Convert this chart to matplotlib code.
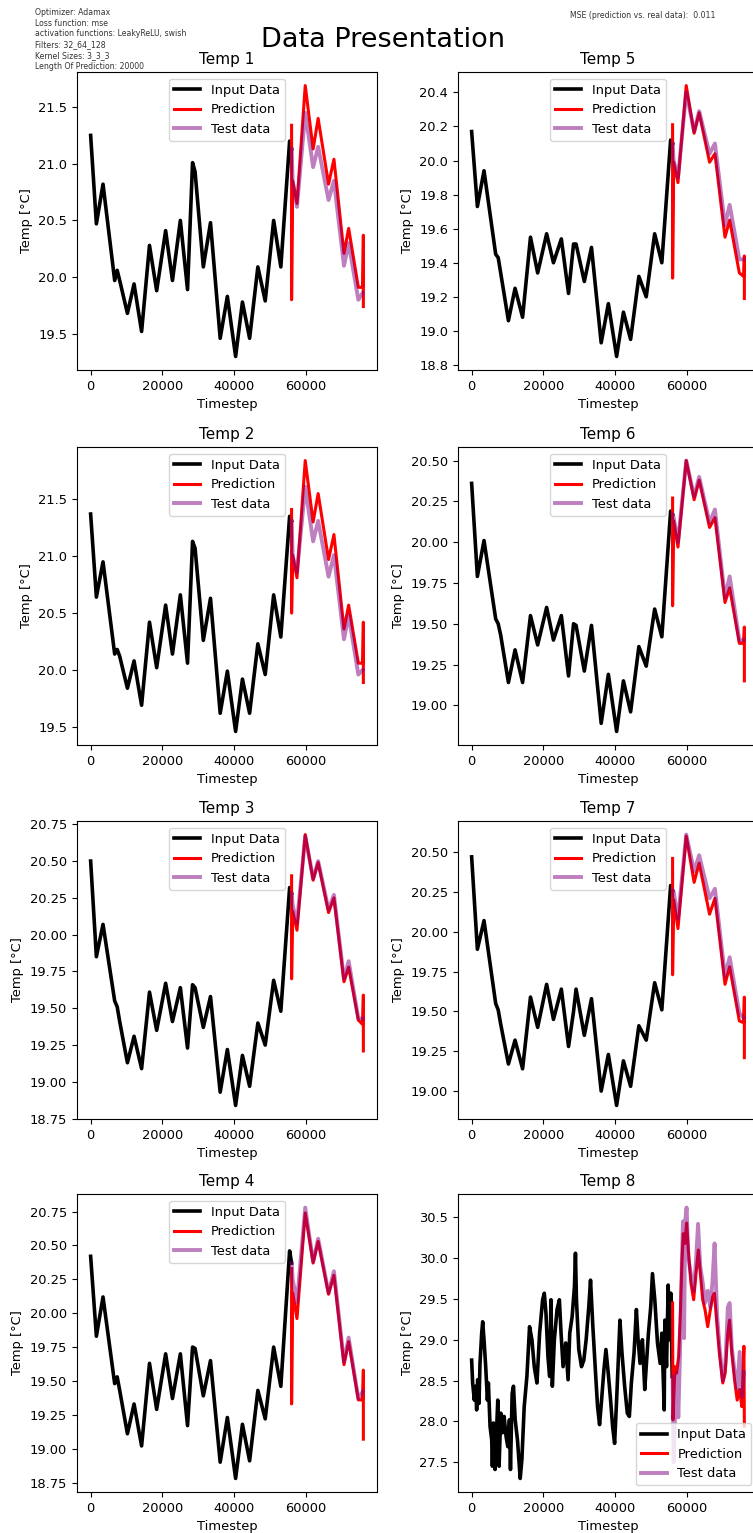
"""
Data presentation grid: input / prediction / test temperature series for 8 sensors.
"""

import matplotlib.pyplot as plt

OUT_PATH = "out.png"

# shared timestep grids (temps 1-7)
INPUT_X = [0, 1600, 3450, 6700, 7400, 8100, 10250, 12100, 14200, 16400, 18400, 20900,
           22800, 25000, 27000, 28400, 29100, 31400, 33400, 36100, 38100, 40400, 42300,
           44300, 46600, 48650, 51000, 53000, 55450, 56000]
PRED_X = [56000, 56000, 56300, 57500, 59800, 62000, 63400, 66300, 67800, 70600, 71900,
          74600, 75800, 76000, 76000]
TEST_X = [56000, 56300, 57500, 59800, 62000, 63400, 66300, 67800, 70600, 71900, 74600, 75800]

TEMP1_INPUT = [21.25, 20.47, 20.82, 19.97, 20.06, 19.97, 19.68, 19.94, 19.52, 20.28, 19.88, 20.41,
               19.97, 20.50, 19.89, 21.01, 20.93, 20.09, 20.48, 19.46, 19.83, 19.30, 19.78,
               19.46, 20.09, 19.79, 20.50, 20.09, 21.20, 21.13]
TEMP1_PRED = [21.34, 19.80, 20.85, 20.65, 21.69, 21.13, 21.40, 20.82, 21.04, 20.21, 20.43,
              19.91, 19.91, 20.37, 19.74]
TEMP1_TEST = [21.13, 20.85, 20.62, 21.45, 20.97, 21.15, 20.68, 20.85, 20.10, 20.30, 19.80, 19.86]

TEMP2_INPUT = [21.37, 20.64, 20.95, 20.14, 20.18, 20.12, 19.84, 20.08, 19.69, 20.42, 20.02, 20.57,
               20.14, 20.66, 20.06, 21.13, 21.07, 20.26, 20.63, 19.62, 19.99, 19.46, 19.92,
               19.62, 20.23, 19.96, 20.66, 20.29, 21.35, 21.31]
TEMP2_PRED = [21.41, 20.50, 21.01, 20.81, 21.84, 21.30, 21.55, 20.97, 21.19, 20.36, 20.57,
              20.06, 20.06, 20.42, 19.89]
TEMP2_TEST = [21.31, 21.00, 20.86, 21.61, 21.13, 21.31, 20.82, 21.01, 20.27, 20.48, 19.96, 20.00]

TEMP3_INPUT = [20.50, 19.85, 20.07, 19.55, 19.51, 19.41, 19.13, 19.31, 19.09, 19.61, 19.35, 19.67,
               19.41, 19.64, 19.23, 19.66, 19.64, 19.37, 19.58, 18.93, 19.22, 18.84, 19.18,
               18.97, 19.40, 19.25, 19.69, 19.48, 20.32, 20.28]
TEMP3_PRED = [20.40, 19.70, 20.16, 20.03, 20.68, 20.37, 20.49, 20.15, 20.25, 19.68, 19.78,
              19.42, 19.39, 19.59, 19.21]
TEMP3_TEST = [20.28, 20.20, 20.08, 20.67, 20.38, 20.50, 20.17, 20.27, 19.70, 19.82, 19.43, 19.43]

TEMP4_INPUT = [20.42, 19.83, 20.12, 19.48, 19.53, 19.43, 19.11, 19.33, 19.02, 19.63, 19.29, 19.70,
               19.37, 19.70, 19.17, 19.75, 19.74, 19.39, 19.65, 18.90, 19.23, 18.78, 19.18,
               18.91, 19.43, 19.22, 19.75, 19.46, 20.46, 20.37]
TEMP4_PRED = [20.33, 19.33, 20.15, 19.96, 20.74, 20.37, 20.53, 20.14, 20.28, 19.62, 19.79,
              19.36, 19.36, 19.58, 19.07]
TEMP4_TEST = [20.37, 20.25, 20.08, 20.78, 20.38, 20.55, 20.15, 20.31, 19.64, 19.82, 19.37, 19.42]

TEMP5_INPUT = [20.17, 19.73, 19.94, 19.45, 19.43, 19.34, 19.06, 19.25, 19.08, 19.55, 19.34, 19.57,
               19.40, 19.54, 19.22, 19.51, 19.51, 19.29, 19.49, 18.93, 19.16, 18.85, 19.11,
               18.95, 19.32, 19.20, 19.57, 19.40, 20.12, 20.10]
TEMP5_PRED = [20.21, 19.31, 19.99, 19.87, 20.44, 20.16, 20.28, 19.99, 20.04, 19.55, 19.65,
              19.34, 19.32, 19.44, 19.19]
TEMP5_TEST = [20.10, 20.00, 19.90, 20.40, 20.17, 20.29, 20.04, 20.10, 19.62, 19.74, 19.42, 19.42]

TEMP6_INPUT = [20.36, 19.79, 20.01, 19.53, 19.50, 19.43, 19.14, 19.34, 19.14, 19.55, 19.37, 19.60,
               19.40, 19.55, 19.18, 19.50, 19.49, 19.21, 19.49, 18.89, 19.19, 18.84, 19.15,
               18.96, 19.36, 19.24, 19.59, 19.42, 20.19, 20.17]
TEMP6_PRED = [20.27, 19.61, 20.13, 19.97, 20.50, 20.26, 20.38, 20.09, 20.15, 19.63, 19.72,
              19.38, 19.38, 19.48, 19.15]
TEMP6_TEST = [20.17, 20.15, 20.00, 20.50, 20.28, 20.40, 20.12, 20.20, 19.66, 19.79, 19.40, 19.40]

TEMP7_INPUT = [20.47, 19.89, 20.07, 19.55, 19.51, 19.42, 19.17, 19.32, 19.14, 19.59, 19.40, 19.67,
               19.45, 19.64, 19.28, 19.50, 19.64, 19.35, 19.58, 19.00, 19.23, 18.91, 19.19,
               19.03, 19.41, 19.32, 19.68, 19.51, 20.29, 20.26]
TEMP7_PRED = [20.46, 19.73, 20.20, 20.02, 20.60, 20.31, 20.43, 20.11, 20.21, 19.67, 19.78,
              19.44, 19.43, 19.59, 19.21]
TEMP7_TEST = [20.26, 20.25, 20.08, 20.61, 20.38, 20.48, 20.21, 20.27, 19.72, 19.84, 19.49, 19.46]

# temp 8 is noisy, so it has its own grids
TEMP8_INPUT_X = [0, 280, 750, 1120, 1400, 1680, 2050, 2330, 2800, 3080, 3450, 3920, 4390, 4670,
                 5130, 5600, 5780, 6070, 6530, 7000, 7280, 7650, 8120, 8580, 9050, 9610, 10080,
                 10540, 10820, 11290, 11660, 12130, 12780, 13530, 14000, 14650, 15400, 16140,
                 16800, 17450, 18200, 18940, 19780, 20250, 20720, 21270, 21740, 22110, 22490,
                 23050, 23800, 24450, 24920, 25480, 26220, 26870, 27340, 28000, 28650, 28930,
                 29210, 29860, 30610, 31260, 31910, 32660, 33130, 33780, 34530, 35090, 35650,
                 36210, 36860, 37420, 38070, 38720, 39280, 39840, 40400, 40870, 41330, 41890,
                 42640, 43380, 43950, 44510, 45260, 45910, 46380, 46940, 47590, 48240, 48710,
                 49270, 49920, 50390, 51040, 51790, 52540, 53000, 53470, 53660, 53840, 54310,
                 54770, 55150, 55520, 55890]
TEMP8_INPUT = [28.75, 28.47, 28.26, 28.43, 28.14, 28.51, 28.22, 28.71, 29.08, 29.22, 29.00, 28.67,
               28.26, 28.47, 27.94, 27.77, 27.45, 27.98, 27.41, 27.94, 28.26, 27.45, 28.10,
               27.86, 28.06, 27.81, 27.69, 28.02, 27.41, 28.34, 28.43, 28.02, 27.77, 27.30,
               27.53, 28.18, 28.55, 29.16, 29.00, 28.67, 28.47, 29.08, 29.49, 29.57, 29.32,
               28.79, 28.55, 29.49, 28.43, 29.00, 29.37, 29.49, 29.08, 28.67, 28.96, 28.51,
               29.08, 29.28, 29.65, 30.06, 29.49, 28.88, 28.67, 28.75, 29.00, 29.41, 29.73,
               29.16, 28.59, 28.18, 27.96, 28.26, 28.63, 28.88, 28.59, 28.26, 27.94, 27.73,
               28.26, 28.75, 29.24, 28.84, 28.43, 28.10, 28.06, 28.47, 28.84, 29.37, 29.00,
               28.71, 29.00, 28.39, 28.71, 29.08, 29.41, 29.81, 29.49, 28.96, 28.71, 29.08,
               28.43, 28.14, 29.24, 28.67, 29.67, 29.00, 29.57, 28.55]
TEMP8_PRED_X = [56000, 56100, 56640, 57100, 57670, 58130, 58600, 58970, 59440, 59910, 60380,
                61120, 61870, 62520, 63170, 63730, 64390, 65030, 65780, 66530, 67190, 67650,
                68400, 69050, 69980, 70650, 71390, 71860, 72510, 73260, 74000, 74650, 75310,
                75870, 76000]
TEMP8_PRED = [29.45, 28.02, 28.67, 28.59, 28.79, 29.28, 29.94, 30.30, 30.18, 30.43, 30.10,
              29.69, 29.49, 29.81, 30.10, 29.81, 29.49, 29.37, 29.16, 29.37, 29.53, 29.57,
              29.16, 28.83, 28.47, 28.59, 29.08, 29.24, 28.83, 28.51, 28.26, 28.39, 28.18,
              28.92, 27.94]
TEMP8_TEST_X = [56000, 56300, 56700, 57200, 57600, 58100, 58600, 58900, 59200, 59500, 59900,
                60400, 61100, 61900, 62500, 63100, 63700, 64400, 65000, 65800, 66500, 67100,
                67700, 68400, 69100, 70000, 70700, 71400, 71900, 72500, 73300, 74000, 74700,
                75300, 75900]
TEMP8_TEST = [28.55, 27.50, 28.10, 28.60, 28.05, 28.90, 30.00, 30.45, 29.02, 30.45, 30.62,
              30.00, 29.80, 29.60, 29.95, 30.42, 29.90, 29.70, 29.45, 29.60, 29.40, 29.70,
              30.18, 29.30, 28.90, 28.50, 28.70, 29.40, 29.45, 28.90, 28.60, 28.40, 28.85,
              28.30, 28.60]

INFO_TEXT = ("Optimizer: Adamax\nLoss function: mse\nactivation functions: LeakyReLU, swish\n"
             "Filters: 32_64_128\nKernel Sizes: 3_3_3\nLength Of Prediction: 20000")
MSE_TEXT = "MSE (prediction vs. real data):  0.011"

W_PX, H_PX = 753, 1533
COL_X = [77, 458]
ROW_TOP = [72, 447, 821, 1194]
AX_W, AX_H = 300, 298
FS = 9.4


def main():
    plt.rcParams["font.size"] = FS
    fig = plt.figure(figsize=(W_PX / 100, H_PX / 100), dpi=100)

    panels = [
        ("Temp 1", INPUT_X, TEMP1_INPUT, PRED_X, TEMP1_PRED, TEST_X, TEMP1_TEST),
        ("Temp 2", INPUT_X, TEMP2_INPUT, PRED_X, TEMP2_PRED, TEST_X, TEMP2_TEST),
        ("Temp 3", INPUT_X, TEMP3_INPUT, PRED_X, TEMP3_PRED, TEST_X, TEMP3_TEST),
        ("Temp 4", INPUT_X, TEMP4_INPUT, PRED_X, TEMP4_PRED, TEST_X, TEMP4_TEST),
        ("Temp 5", INPUT_X, TEMP5_INPUT, PRED_X, TEMP5_PRED, TEST_X, TEMP5_TEST),
        ("Temp 6", INPUT_X, TEMP6_INPUT, PRED_X, TEMP6_PRED, TEST_X, TEMP6_TEST),
        ("Temp 7", INPUT_X, TEMP7_INPUT, PRED_X, TEMP7_PRED, TEST_X, TEMP7_TEST),
        ("Temp 8", TEMP8_INPUT_X, TEMP8_INPUT, TEMP8_PRED_X, TEMP8_PRED, TEMP8_TEST_X, TEMP8_TEST),
    ]

    for i, (title, ix, iy, px, py, tx, ty) in enumerate(panels):
        col, row = divmod(i, 4)
        left = COL_X[col] / W_PX
        bottom = 1 - (ROW_TOP[row] + AX_H) / H_PX
        ax = fig.add_axes([left, bottom, AX_W / W_PX, AX_H / H_PX])

        ax.plot(ix, iy, color="black", lw=2.6, label="Input Data")
        ax.plot(px, py, color="red", lw=2.2, label="Prediction")
        ax.plot(tx, ty, color="purple", lw=2.8, alpha=0.5, label="Test data")

        ax.set_title(title, fontsize=11)
        ax.set_xlabel("Timestep", fontsize=FS)
        ax.set_ylabel("Temp [°C]", fontsize=FS)
        loc = "lower right" if title == "Temp 8" else "upper center"
        ax.legend(loc=loc, fontsize=FS)

    fig.text(35 / W_PX, 1 - 8 / H_PX, INFO_TEXT, ha="left", va="top", fontsize=5.6,
             linespacing=1.25, color="#333333")
    fig.text(570 / W_PX, 1 - 16 / H_PX, MSE_TEXT, ha="left", va="center", fontsize=5.6,
             color="#333333")
    fig.text(383 / W_PX, 1 - 40 / H_PX, "Data Presentation", ha="center", va="center",
             fontsize=19.5)

    fig.savefig(OUT_PATH, dpi=100)


if __name__ == "__main__":
    main()
